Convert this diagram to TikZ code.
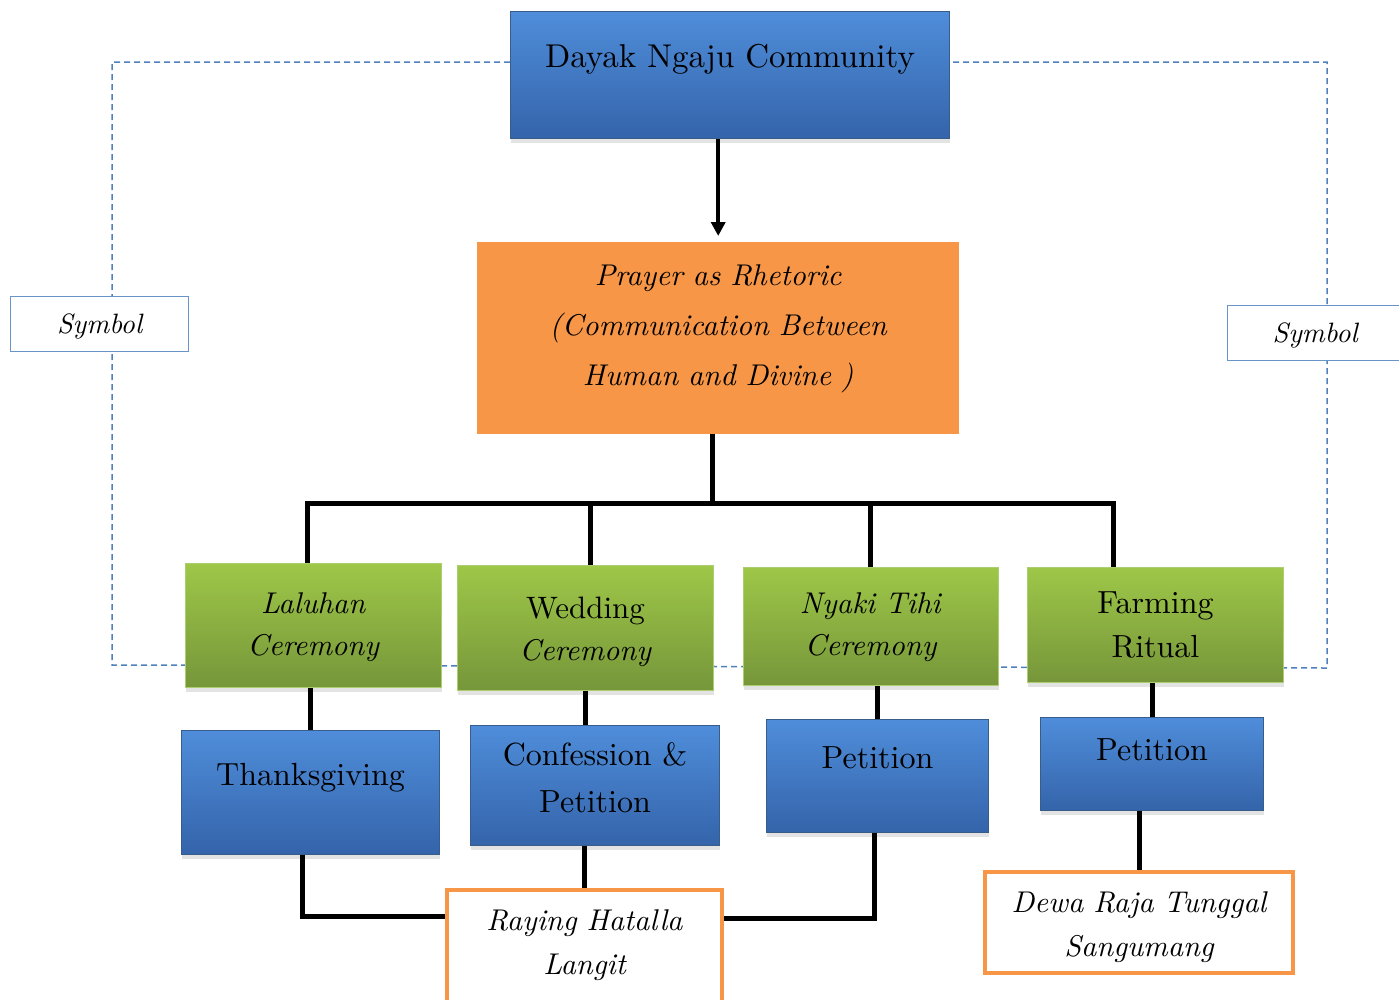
\documentclass[tikz,border=0pt]{standalone}
\usepackage{fontspec}
\setmainfont{lmroman10-regular.otf}[ItalicFont=lmroman10-italic.otf, BoldFont=lmroman10-bold.otf]
\usetikzlibrary{arrows.meta,shadows,backgrounds}
\definecolor{bluetop}{RGB}{79,141,218}
\definecolor{bluebot}{RGB}{52,100,170}
\definecolor{blueedge}{RGB}{56,93,138}
\definecolor{greentop}{RGB}{158,199,72}
\definecolor{greenbot}{RGB}{118,150,58}
\definecolor{greenedge}{RGB}{172,205,112}
\definecolor{orangefill}{RGB}{247,150,70}
\definecolor{dashblue}{RGB}{79,129,189}
\tikzset{
  box/.style={anchor=north west, inner sep=0pt, align=center},
  bluebox/.style={box, top color=bluetop, bottom color=bluebot, draw=blueedge, line width=1pt,
    drop shadow={shadow xshift=0pt, shadow yshift=-4pt, opacity=0.22}, font=\fontsize{32}{47}\selectfont},
  greenbox/.style={box, top color=greentop, bottom color=greenbot, draw=greenedge, line width=1pt,
    drop shadow={shadow xshift=0pt, shadow yshift=-4pt, opacity=0.22}, font=\fontsize{31}{42}\selectfont},
  godbox/.style={box, fill=white, draw=orangefill, line width=4pt, font=\fontsize{30}{44}\selectfont\itshape},
  symbox/.style={box, fill=white, draw=dashblue!85, line width=1.2pt, font=\fontsize{28}{30}\selectfont\itshape},
  tree/.style={line width=5pt},
  link/.style={dashblue, line width=1.5pt, dash pattern=on 6pt off 4pt}
}
\begin{document}
\begin{tikzpicture}[x=1pt, y=-1pt]
\useasboundingbox (0,0) rectangle (1399,999);
\node[bluebox, font=\fontsize{33}{40}\selectfont, text width=439pt, text height=56pt, text depth=71pt] (dayak) at (510,11) {Dayak Ngaju Community};
\node[box, fill=orangefill, font=\fontsize{30}{50}\selectfont\itshape, text width=482pt, text height=43pt, text depth=149pt] (prayer) at (477,242) {Prayer as Rhetoric\\(Communication Between\\Human and Divine )};
\node[greenbox, text width=256pt, text height=50pt, text depth=74pt] (laluhan) at (185,563) {\textit{\fontsize{30}{42}\selectfont Laluhan}\\\textit{\fontsize{30}{42}\selectfont Ceremony}};
\node[greenbox, text width=256pt, text height=53pt, text depth=72pt] (wedding) at (457,565) {Wedding\\\textit{\fontsize{30}{42}\selectfont Ceremony}};
\node[greenbox, text width=255pt, text height=46pt, text depth=72pt] (nyaki) at (743,567) {\textit{\fontsize{30}{42}\selectfont Nyaki Tihi}\\\textit{\fontsize{30}{42}\selectfont Ceremony}};
\node[greenbox, text width=256pt, text height=46pt, text depth=69pt, font=\fontsize{32}{44}\selectfont] (farming) at (1027,567) {Farming\\Ritual};
\node[bluebox, text width=258pt, text height=55pt, text depth=69pt] (thanks) at (181,730) {Thanksgiving};
\node[bluebox, text width=249pt, text height=40pt, text depth=80pt] (confess) at (470,725) {Confession \&\\Petition};
\node[bluebox, text width=222pt, text height=49pt, text depth=64pt] (petA) at (766,719) {Petition};
\node[bluebox, text width=223pt, text height=43pt, text depth=50pt] (petB) at (1040,717) {Petition};
\node[godbox, text width=275pt, text height=40pt, text depth=73pt] (raying) at (445,888) {Raying Hatalla\\Langit};
\node[godbox, text width=308pt, text height=40pt, text depth=61pt] (dewa) at (983,870) {Dewa Raja Tunggal\\Sangumang};
\node[symbox, text width=178pt, text height=37pt, text depth=18pt] (symL) at (10,296) {Symbol};
\node[symbox, text width=175pt, text height=37pt, text depth=18pt] (symR) at (1227,305) {Symbol};
\coordinate (lt) at (112,62);
\coordinate (lb) at (112,665);
\coordinate (rt) at (1327,62);
\coordinate (rb) at (1327,668);
\coordinate (j0) at (712,503);
\coordinate (j1) at (307,503);
\coordinate (j2) at (590,503);
\coordinate (j3) at (870,503);
\coordinate (j4) at (1113,503);
\coordinate (c1) at (302,916);
\coordinate (c2) at (874,918);
\begin{scope}[on background layer]
\fill[white] (0,0) rectangle (1399,999);
\draw[link] (dayak.west |- lt) -- (lt) -- (lb) -- (rb) -- (rt) -- (dayak.east |- rt);
\end{scope}
\draw[line width=4pt, -{Triangle[length=14pt,width=14pt]}, shorten >=6pt] (dayak.south -| prayer.north) -- (prayer.north);
\draw[tree] (prayer.south -| j0) -- (j0);
\draw[tree] (j1 |- laluhan.north) -- (j1) -- (j4) -- (j4 |- farming.north);
\draw[tree] (j2) -- (j2 |- wedding.north);
\draw[tree] (j3) -- (j3 |- nyaki.north);
\draw[tree] (laluhan.south -| thanks.north) -- (thanks.north);
\draw[tree] (wedding.south) -- (wedding.south |- confess.north);
\draw[tree] (nyaki.south -| petA.north) -- (petA.north);
\draw[tree] (farming.south -| petB.north) -- (petB.north);
\draw[tree] (thanks.south -| c1) -- (c1) -- (raying.west |- c1);
\draw[tree] (confess.south -| raying.north) -- (raying.north);
\draw[tree] (petA.south -| c2) -- (c2) -- (raying.east |- c2);
\draw[tree] (petB.south -| dewa.north) -- (dewa.north);
\end{tikzpicture}
\end{document}
